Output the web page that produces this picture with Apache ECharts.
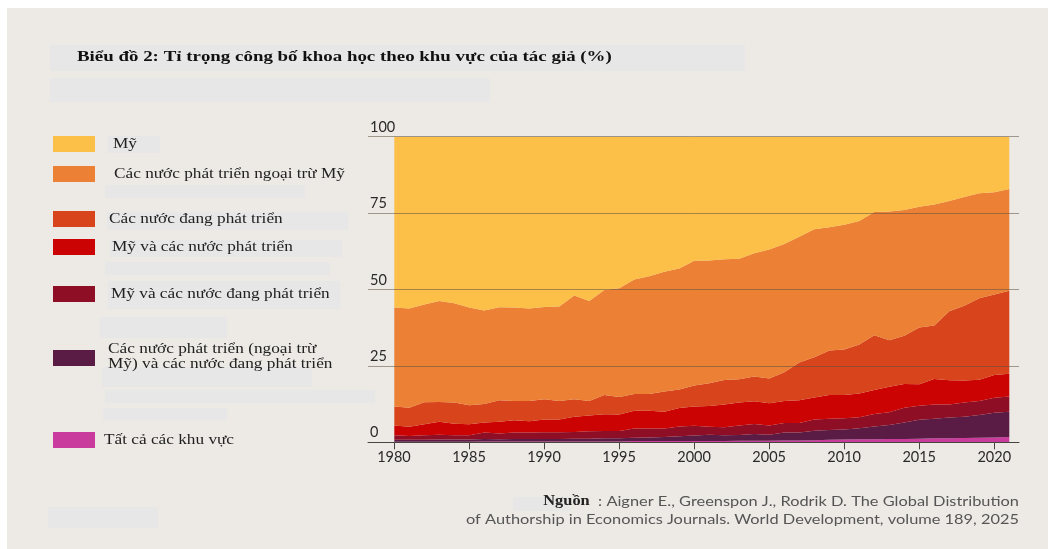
<!DOCTYPE html>
<html>
<head>
<meta charset="utf-8">
<script src="https://cdn.jsdelivr.net/npm/echarts@6/dist/echarts.min.js"></script>
<style>
html,body{margin:0;padding:0;background:#ffffff;}
#chart{position:absolute;left:7px;top:8px;width:1041px;height:541px;background:#EDEAE6;}
</style>
</head>
<body>
<div id="chart"></div>
<script>
// ---- data ----
const years = ['1980','1981','1982','1983','1984','1985','1986','1987','1988','1989','1990','1991','1992','1993','1994','1995','1996','1997','1998','1999',
  '2000','2001','2002','2003','2004','2005','2006','2007','2008','2009','2010','2011','2012','2013','2014','2015','2016','2017','2018','2019','2020','2021'];
const tickYears = [1980,1985,1990,1995,2000,2005,2010,2015,2020];
const yTicks = [0,25,50,75,100];

const seriesNames = [
  'Tất cả các khu vực',
  'Các nước phát triển (ngoại trừ Mỹ) và các nước đang phát triển',
  'Mỹ và các nước đang phát triển',
  'Mỹ và các nước phát triển',
  'Các nước đang phát triển',
  'Các nước phát triển ngoại trừ Mỹ',
  'Mỹ'
];

const allRegions = [0.2,0.2,0.2,0.2,0.2,0.2,0.3,0.3,0.3,0.3,0.3,0.3,0.3,0.3,0.3,0.3,0.4,0.4,0.4,0.4,
  0.4,0.4,0.4,0.5,0.5,0.5,0.6,0.6,0.7,0.8,0.9,1.0,1.0,1.1,1.1,1.2,1.3,1.3,1.4,1.5,1.6,1.7];
const devExUsAndDeveloping = [0.6,0.6,0.6,0.7,0.7,0.7,0.8,0.7,0.8,0.8,0.8,0.8,0.9,0.9,1.0,1.0,1.1,1.2,1.3,1.6,
  1.8,2.1,1.9,1.9,2.2,2.0,2.6,2.6,3.1,3.2,3.3,3.6,4.2,4.6,5.4,6.2,6.4,6.8,7.0,7.4,8.1,8.3];
const usAndDeveloping = [1.5,1.3,1.5,1.6,1.4,1.4,2.1,1.9,2.1,2.1,2.2,2.2,2.2,2.4,2.4,2.4,3.0,2.9,2.8,3.2,
  3.2,2.6,2.6,3.1,3.3,3.0,3.1,3.1,3.7,3.7,3.7,3.6,4.1,4.1,4.8,4.6,4.7,4.3,4.6,4.6,4.9,5.0];
const usAndDeveloped = [3.2,3.0,3.6,4.2,3.8,3.6,3.3,3.8,4.0,3.7,4.2,4.2,5.0,5.2,5.5,5.4,5.8,5.8,5.5,6.0,
  6.3,6.8,7.5,7.5,7.4,7.3,7.2,7.5,7.2,7.8,7.6,7.8,7.8,8.4,7.8,7.0,8.3,7.9,7.2,7.0,7.4,7.4];
const developing = [6.2,6.2,7.2,6.5,6.9,6.2,6.0,7.1,6.3,6.6,6.6,6.0,5.7,4.7,6.3,5.7,5.5,5.5,6.6,6.1,
  6.9,7.4,8.0,7.6,8.1,8.1,9.4,12.3,13.1,14.5,14.9,16.0,17.9,15.2,15.8,18.6,17.5,22.6,24.5,26.6,26.4,27.2];
const developedExUs = [32.4,32.5,32.0,33.0,32.5,32.0,30.6,30.4,30.6,30.3,30.2,30.9,33.9,32.7,34.3,35.6,37.5,38.5,39.2,39.6,
  40.8,40.2,39.5,39.5,40.4,42.2,42.0,41.2,41.9,40.4,40.8,40.4,40.4,42.1,41.1,39.5,39.6,36.1,35.6,34.4,33.4,33.3];
const us = [55.9,56.2,54.9,53.8,54.5,55.9,56.9,55.8,55.9,56.2,55.7,55.6,52.0,53.8,50.2,49.6,46.7,45.7,44.2,43.1,
  40.6,40.5,40.1,39.9,38.1,36.9,35.1,32.7,30.3,29.6,28.8,27.6,24.6,24.5,24.0,22.9,22.2,21.0,19.7,18.5,18.2,17.1];

const seriesData = [allRegions, devExUsAndDeveloping, usAndDeveloping, usAndDeveloped, developing, developedExUs, us];
const colors = ['#C93C9E','#5A1B45','#8E0E25','#CB0303','#D8441B','#EC8034','#FCBF48'];

// legend layout in page coords: [series index, swatch top, text x, label]
const legendRows = [
  [6, 136, 113, 'Mỹ'],
  [5, 166, 114, 'Các nước phát triển ngoại trừ Mỹ'],
  [4, 211, 109, 'Các nước đang phát triển'],
  [3, 239, 112, 'Mỹ và các nước phát triển'],
  [2, 286, 111, 'Mỹ và các nước đang phát triển'],
  [1, 350, 108, 'Các nước phát triển (ngoại trừ\nMỹ) và các nước đang phát triển'],
  [0, 432, 104, 'Tất cả các khu vực']
];

const OX = 7, OY = 8;
const chart = echarts.init(document.getElementById('chart'), null, {renderer:'canvas'});

const series = seriesNames.map((n,i) => ({
  name:n, type:'line', stack:'total', symbol:'none', smooth:false,
  xAxisIndex:1, yAxisIndex:1,
  data: seriesData[i],
  lineStyle:{width:0}, itemStyle:{color:colors[i]},
  areaStyle:{color:colors[i], opacity:1}, z:2
}));

const boxes = [
  [50,45,695,26],[50,78,440,24],
  [108,136,52,17],[105,185,200,13],[107,212,241,18],[110,240,232,17],[105,262,225,13],
  [108,281,232,28],[100,317,127,21],[102,367,210,20],[105,390,270,13],[103,408,124,12],
  [48,507,110,21],[513,497,57,14]
];

const TOP = 136.7, BOT = 442.3;
const tx = (s,x,y,font,fill,sx,extra) => Object.assign({type:'text', x:x-OX, y:y-OY, scaleX:sx, z:20,
  style:Object.assign({text:s, font:font, fill:fill}, extra||{})});

const graphics = [
  ...boxes.map(b=>({type:'rect', silent:true, z:-10, shape:{x:b[0]-OX,y:b[1]-OY,width:b[2],height:b[3]}, style:{fill:'#E7E7E7'}})),
  tx('Biểu đồ 2: Tỉ trọng công bố khoa học theo khu vực của tác giả (%)', 77, 50, 'bold 15px "Liberation Serif"', '#111', 1.26),
];
legendRows.forEach(r => {
  graphics.push({type:'rect', z:20, shape:{x:53-OX, y:r[1]-OY, width:42, height:16}, style:{fill:colors[r[0]]}});
  const multi = r[3].indexOf('\n') >= 0;
  graphics.push(tx(r[3], r[2], multi ? r[1]-8 : r[1]+1, '15px "Liberation Serif"', '#222', 1.15, {lineHeight:15}));
});
graphics.push({type:'text', z:20, x:1019-OX, y:494-OY, scaleX:1.17, style:{
  text:'{b|Nguồn}{n|  : Aigner E., Greenspon J., Rodrik D. The Global Distribution}', align:'right',
  rich:{b:{font:'bold 14px "Liberation Serif"', fill:'#222'}, n:{font:'14px Lato', fill:'#555'}}}});
graphics.push({type:'text', z:20, x:1019-OX, y:512-OY, scaleX:1.17, style:{
  text:'of Authorship in Economics Journals. World Development, volume 189, 2025', align:'right',
  font:'14px Lato', fill:'#555'}});

chart.setOption({
  backgroundColor:'#EDEAE6',
  animation:false,
  color: colors,
  grid:[
    {left:368-OX, right:1048-1019, top:TOP-OY, bottom:549-BOT},
    {left:394.3-OX, right:1048-1009.3, top:TOP-OY, bottom:549-BOT}
  ],
  xAxis:[{
    gridIndex:0, type:'value', min:1978.27, max:2021.65,
    axisLine:{show:true, lineStyle:{color:'#4a4440', width:1}},
    axisTick:{show:true, customValues:tickYears, length:7, lineStyle:{color:'#4a4440'}},
    axisLabel:{customValues:tickYears, fontFamily:'Lato', fontSize:14.5, color:'#2a2a2a', margin:8, formatter:v=>String(v)},
    splitLine:{show:false}, z:10
  },{
    gridIndex:1, type:'category', data:years, boundaryGap:false, show:false
  }],
  yAxis:[{
    gridIndex:0, type:'value', min:0, max:100, interval:25, z:10,
    axisLine:{show:false}, axisTick:{show:false},
    axisLabel:{customValues:yTicks, inside:true, margin:2, verticalAlign:'bottom', align:'left', padding:[0,0,2,0],
      fontFamily:'Lato', fontSize:14.5, color:'#2a2a2a'},
    splitLine:{show:true, lineStyle:{color:'rgba(95,80,65,0.55)', width:1}}
  },{
    gridIndex:1, type:'value', min:0, max:100, show:false, splitLine:{show:false}
  }],
  series: series,
  graphic: graphics
});
</script>
</body>
</html>
